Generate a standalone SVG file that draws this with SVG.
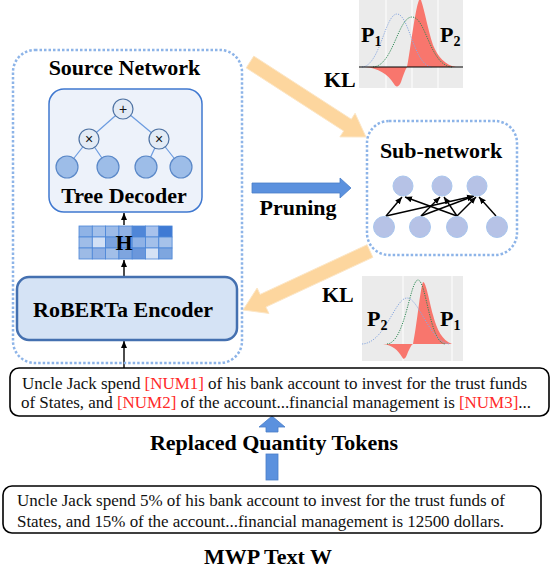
<svg xmlns="http://www.w3.org/2000/svg" width="552" height="568" viewBox="0 0 552 568">
<defs>
<style>
.b{font-family:"Liberation Serif","Times New Roman",serif;font-weight:bold;font-size:22px;fill:#000}
.t{font-family:"Liberation Serif","Times New Roman",serif;font-size:17px;fill:#111}
.r{fill:#ff2a2a}
.dot{fill:none;stroke:#8db4e8;stroke-width:2.5;stroke-dasharray:2.5 2}
.leaf{fill:#9dbde8;stroke:#5a88c8;stroke-width:1.2}
.op{fill:#e3ebf5;stroke:#4f73a3;stroke-width:1.2}
.tedge{stroke:#6b9be0;stroke-width:1.2}
.sn{fill:#b6c2e6;stroke:#a9c6ee;stroke-width:1}
.con{stroke:#000;stroke-width:1.4;fill:none;marker-end:url(#ah)}
.orange{fill:#fdd69e;stroke:#fce6c6;stroke-width:1}
.blue{fill:#5b91de;stroke:#4a7dc8;stroke-width:0.8}
.bg{fill:#ebebeb}
.grid{stroke:#fff;stroke-width:1}
.red{fill:#f8766d}
.p1c{fill:none;stroke:#8aa9e0;stroke-width:1;stroke-dasharray:1.2 1.2}
.p2c{fill:none;stroke:#2f8a55;stroke-width:1;stroke-dasharray:1.2 1.2}
.cell{stroke:#4a85d8;stroke-width:0.8}
</style>
<marker id="ah" markerUnits="userSpaceOnUse" markerWidth="8" markerHeight="8" refX="7" refY="4" orient="auto">
<path d="M0,1 L7,4 L0,7 Z" fill="#000"/>
</marker>
</defs>

<g id="chart-top">
<rect class="bg" x="359" y="0" width="104" height="88"/>
<line class="grid" x1="386" y1="0" x2="386" y2="88"/>
<line class="grid" x1="412" y1="0" x2="412" y2="88"/>
<line class="grid" x1="438" y1="0" x2="438" y2="88"/>
<path class="red" d="M407,67 C411,45 415,10 419,0 L421,0 C425,12 428,30 433,45 C438,57 445,65 456,67 Z"/>
<path class="red" d="M365,67 C378,68 388,74 394,84 C396,88 399,87 401,82 C403,76 405,70 407,67 Z"/>
<path class="p1c" d="M362,67 C380,66 385,14 397,14 C409,14 414,66 432,67"/>
<path class="p2c" d="M373,67 C393,66 398,17 412,17 C426,17 430,66 452,67"/>
<line x1="359" y1="67" x2="463" y2="67" stroke="#000" stroke-width="1.2"/>
<text class="b" x="361" y="42">P<tspan font-size="14" dy="4">1</tspan></text>
<text class="b" x="440" y="42">P<tspan font-size="14" dy="4">2</tspan></text>
<text class="b" x="324" y="87">KL</text>
</g>

<g id="chart-bottom">
<rect class="bg" x="362" y="276" width="101" height="85"/>
<line class="grid" x1="403" y1="276" x2="403" y2="361"/>
<line class="grid" x1="452" y1="276" x2="452" y2="361"/>
<path class="red" d="M413,344 C417,325 420,290 423,282 C426,282 429,300 433,315 C437,330 442,340 452,344 Z"/>
<path class="red" d="M383,344 C392,345 398,350 402,357 C404,361 406,358 408,352 C410,348 411,345 413,344 Z"/>
<path class="p2c" d="M387,344 C405,343 410,280 418,280 C426,280 430,343 445,344"/>
<path class="p1c" d="M362,344 C385,343 395,298 407,298 C419,298 430,343 450,344"/>
<text class="b" x="367" y="326">P<tspan font-size="14" dy="4">2</tspan></text>
<text class="b" x="440" y="326">P<tspan font-size="14" dy="4">1</tspan></text>
<text class="b" x="322" y="302">KL</text>
</g>

<g id="connectors">
<polygon class="orange" points="246.2,67.9 253.8,56.1 351.3,119.2 355.1,113.3 366,137 339.9,136.9 343.7,131"/>
<polygon class="orange" points="372.9,257.3 367.1,244.7 260.1,294.4 257.1,288 243,310 268.9,313.4 265.9,307"/>
<polygon class="blue" points="252,183 340,183 340,178 351,188 340,198 340,193 252,193"/>
<polygon class="blue" points="266,432 266,427 259,427 272,416 285,427 278,427 278,432"/>
<rect class="blue" x="266" y="454" width="12" height="26"/>
<line class="con" x1="124" y1="225" x2="124" y2="213"/>
<line class="con" x1="124" y1="276" x2="124" y2="260"/>
<line class="con" x1="124" y1="368" x2="124" y2="341"/>
<line class="con" x1="386" y1="216" x2="402" y2="197"/>
<line class="con" x1="386" y1="216" x2="474" y2="196"/>
<line class="con" x1="421" y1="216" x2="440" y2="197"/>
<line class="con" x1="421" y1="216" x2="474" y2="196"/>
<line class="con" x1="457" y1="216" x2="405" y2="197"/>
<line class="con" x1="457" y1="216" x2="444" y2="197"/>
<line class="con" x1="457" y1="216" x2="476" y2="197"/>
<line class="con" x1="496" y1="216" x2="479" y2="197"/>
</g>

<g id="source-network">
<rect class="dot" x="13" y="50" width="229" height="313" rx="22"/>
<text class="b" x="124.5" y="75" text-anchor="middle">Source Network</text>
</g>

<g id="tree-decoder">
<rect x="49" y="89" width="153" height="123" rx="15" fill="#edf2fa" stroke="#3f78d0" stroke-width="1.5"/>
<line class="tedge" x1="123" y1="109" x2="89" y2="139"/>
<line class="tedge" x1="123" y1="109" x2="159" y2="139"/>
<line class="tedge" x1="89" y1="139" x2="67" y2="167"/>
<line class="tedge" x1="89" y1="139" x2="108" y2="167"/>
<line class="tedge" x1="159" y1="139" x2="146" y2="167"/>
<line class="tedge" x1="159" y1="139" x2="181" y2="167"/>
<circle class="op" cx="123" cy="109" r="10"/>
<circle class="op" cx="89" cy="139" r="10"/>
<circle class="op" cx="159" cy="139" r="10"/>
<circle class="leaf" cx="67" cy="167" r="11"/>
<circle class="leaf" cx="108" cy="167" r="11"/>
<circle class="leaf" cx="146" cy="167" r="11"/>
<circle class="leaf" cx="181" cy="167" r="11"/>
<text x="123" y="114" text-anchor="middle" font-family="Liberation Sans,Arial,sans-serif" font-size="14" fill="#111">+</text>
<text x="89" y="144" text-anchor="middle" font-family="Liberation Sans,Arial,sans-serif" font-size="14" fill="#111">×</text>
<text x="159" y="144" text-anchor="middle" font-family="Liberation Sans,Arial,sans-serif" font-size="14" fill="#111">×</text>
<text class="b" x="124" y="203" text-anchor="middle">Tree Decoder</text>
</g>

<g id="hidden-H">
<rect class="cell" x="79" y="226" width="13.3" height="11" fill="#8fb3e6"/>
<rect class="cell" x="92.3" y="226" width="13.3" height="11" fill="#a3c0ea"/>
<rect class="cell" x="105.6" y="226" width="13.3" height="11" fill="#9cbbe8"/>
<rect class="cell" x="118.9" y="226" width="13.3" height="11" fill="#8fb0e4"/>
<rect class="cell" x="132.2" y="226" width="13.3" height="11" fill="#4f86d8"/>
<rect class="cell" x="145.5" y="226" width="13.3" height="11" fill="#a8c2ec"/>
<rect class="cell" x="158.8" y="226" width="13.3" height="11" fill="#3f7ad4"/>
<rect class="cell" x="79" y="237" width="13.3" height="11" fill="#9fbde8"/>
<rect class="cell" x="92.3" y="237" width="13.3" height="11" fill="#d2e0f5"/>
<rect class="cell" x="105.6" y="237" width="13.3" height="11" fill="#7aa3df"/>
<rect class="cell" x="118.9" y="237" width="13.3" height="11" fill="#6e9ade"/>
<rect class="cell" x="132.2" y="237" width="13.3" height="11" fill="#8fb2e6"/>
<rect class="cell" x="145.5" y="237" width="13.3" height="11" fill="#a3c0ea"/>
<rect class="cell" x="158.8" y="237" width="13.3" height="11" fill="#a6c2ea"/>
<rect class="cell" x="79" y="248" width="13.3" height="11" fill="#9dbbe6"/>
<rect class="cell" x="92.3" y="248" width="13.3" height="11" fill="#8fb0e4"/>
<rect class="cell" x="105.6" y="248" width="13.3" height="11" fill="#a2bfe8"/>
<rect class="cell" x="118.9" y="248" width="13.3" height="11" fill="#7ea5df"/>
<rect class="cell" x="132.2" y="248" width="13.3" height="11" fill="#6b97db"/>
<rect class="cell" x="145.5" y="248" width="13.3" height="11" fill="#d5e2f5"/>
<rect class="cell" x="158.8" y="248" width="13.3" height="11" fill="#7ea6df"/>
<text class="b" x="124" y="250" text-anchor="middle" font-size="20">H</text>
</g>

<g id="roberta-encoder">
<rect x="17" y="277" width="220" height="63" rx="12" fill="#d5e3f5" stroke="#4470b0" stroke-width="2.5"/>
<text class="b" x="123" y="317" text-anchor="middle">RoBERTa Encoder</text>
</g>

<g id="sub-network">
<rect class="dot" x="367" y="121" width="150" height="134" rx="22"/>
<text class="b" x="441" y="158" text-anchor="middle">Sub-network</text>
<circle class="sn" cx="403" cy="186" r="10" fill="#a9bfe8"/>
<circle class="sn" cx="442" cy="186" r="10"/>
<circle class="sn" cx="477" cy="186" r="10"/>
<circle class="sn" cx="384" cy="227" r="10.5"/>
<circle class="sn" cx="420" cy="227" r="10.5"/>
<circle class="sn" cx="457" cy="227" r="10.5"/>
<circle class="sn" cx="497" cy="227" r="10.5"/>
</g>

<g id="pruning-label">
<text class="b" x="298" y="215" text-anchor="middle">Pruning</text>
</g>

<g id="replaced-text">
<rect x="10" y="368" width="539" height="48" rx="9" fill="#fff" stroke="#000" stroke-width="1.6"/>
<text class="t" x="22" y="389" textLength="505">Uncle Jack spend <tspan class="r">[NUM1]</tspan> of his bank account to invest for the trust funds</text>
<text class="t" x="21" y="408" textLength="510">of States, and <tspan class="r">[NUM2]</tspan> of the account...financial management is <tspan class="r">[NUM3]</tspan>...</text>
</g>

<g id="replaced-label">
<text class="b" x="274" y="450" text-anchor="middle">Replaced Quantity Tokens</text>
</g>

<g id="mwp-text">
<rect x="3" y="486" width="538" height="47" rx="9" fill="#fff" stroke="#000" stroke-width="1.6"/>
<text class="t" x="17" y="506" textLength="488">Uncle Jack spend 5% of his bank account to invest for the trust funds of</text>
<text class="t" x="17" y="527" textLength="487">States, and 15% of the account...financial management is 12500 dollars.</text>
</g>

<g id="mwp-label">
<text class="b" x="268" y="564" text-anchor="middle">MWP Text W</text>
</g>
</svg>
